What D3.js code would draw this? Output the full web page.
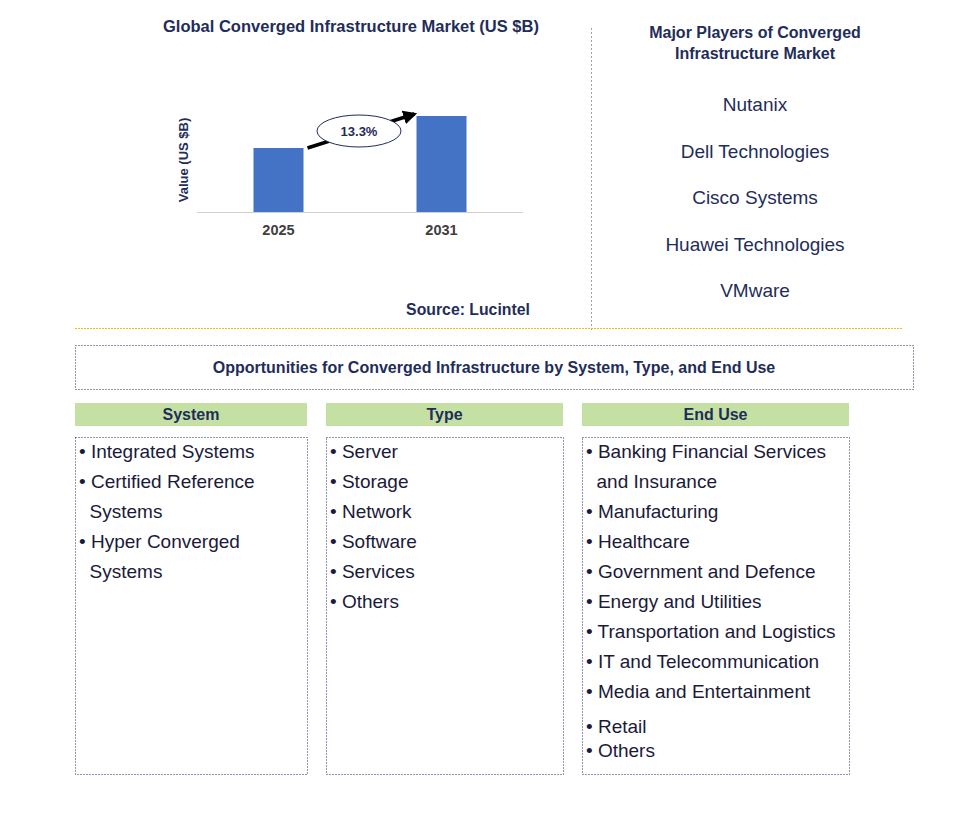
<!DOCTYPE html>
<html><head><meta charset="utf-8">
<script src="https://cdn.jsdelivr.net/npm/d3@7"></script>
<style>body{margin:0;background:#fff}</style></head>
<body><svg id="c" width="978" height="815"></svg>
<script>
const years = ["2025","2031"];
const values = [6.4, 9.6];
const cagr = "13.3%";
const players = ["Nutanix","Dell Technologies","Cisco Systems","Huawei Technologies","VMware"];
const systemItems = [["• Integrated Systems"],["• Certified Reference","  Systems"],["• Hyper Converged","  Systems"]];
const typeItems = [["• Server"],["• Storage"],["• Network"],["• Software"],["• Services"],["• Others"]];
const endUseItems = [["• Banking Financial Services","  and Insurance"],["• Manufacturing"],["• Healthcare"],["• Government and Defence"],["• Energy and Utilities"],["• Transportation and Logistics"],["• IT and Telecommunication"],["• Media and Entertainment"],["• Retail"],["• Others"]];

const svg = d3.select("#c");
const F = "Arial, 'Liberation Sans', sans-serif";
const navy = "#1f2d5a";
svg.append("text").attr("x",351).attr("y",32).attr("text-anchor","middle").attr("font-family",F)
  .attr("font-weight","bold").attr("font-size",16.5).attr("fill",navy).text("Global Converged Infrastructure Market (US $B)");

const x = d3.scaleBand().domain(years).range([197,523]).padding(0);
const y = d3.scaleLinear().domain([0,10]).range([212,112]);
const bw = 50;
svg.append("line").attr("x1",197).attr("x2",523).attr("y1",212.5).attr("y2",212.5).attr("stroke","#d0d0d0");
svg.selectAll("rect.bar").data(years).join("rect").attr("class","bar")
  .attr("x",d=>x(d)+x.bandwidth()/2-bw/2).attr("width",bw)
  .attr("y",(d,i)=>y(values[i])).attr("height",(d,i)=>y(0)-y(values[i])).attr("fill","#4472c4");
svg.selectAll("text.yr").data(years).join("text").attr("class","yr")
  .attr("x",d=>x(d)+x.bandwidth()/2).attr("y",235).attr("text-anchor","middle")
  .attr("font-family",F).attr("font-weight","bold").attr("font-size",14.5).attr("fill","#404040").text(d=>d);
svg.append("text").attr("transform","translate(188,160) rotate(-90)").attr("text-anchor","middle")
  .attr("font-family",F).attr("font-weight","bold").attr("font-size",13).attr("fill",navy).text("Value (US $B)");
const defs = svg.append("defs");
defs.append("marker").attr("id","ah").attr("viewBox","0 0 10 10").attr("refX",8).attr("refY",5)
  .attr("markerWidth",4).attr("markerHeight",4).attr("orient","auto")
  .append("path").attr("d","M0,0L10,5L0,10z").attr("fill","#000");
const x0 = x(years[0])+x.bandwidth()/2+bw/2+4, x1 = x(years[1])+x.bandwidth()/2-bw/2-2;
svg.append("line").attr("x1",x0).attr("y1",y(values[0])).attr("x2",x1).attr("y2",y(values[1])-2)
  .attr("stroke","#000").attr("stroke-width",3.5).attr("marker-end","url(#ah)");
const ex=(x0+x1)/2-2, ey=(y(values[0])+y(values[1]))/2-1;
svg.append("ellipse").attr("cx",ex).attr("cy",ey).attr("rx",42).attr("ry",16).attr("fill","#fff").attr("stroke",navy);
svg.append("text").attr("x",ex).attr("y",ey+5).attr("text-anchor","middle").attr("font-family",F)
  .attr("font-weight","bold").attr("font-size",13).attr("fill",navy).text(cagr);
svg.append("text").attr("x",468).attr("y",315).attr("text-anchor","middle").attr("font-family",F)
  .attr("font-weight","bold").attr("font-size",15.8).attr("fill",navy).text("Source: Lucintel");

svg.append("line").attr("x1",591.5).attr("x2",591.5).attr("y1",28).attr("y2",332).attr("stroke","#a0a0a0").attr("stroke-dasharray","2,2");
svg.append("line").attr("x1",75).attr("x2",902).attr("y1",328.5).attr("y2",328.5).attr("stroke","#f0c000").attr("stroke-width",1.2).attr("stroke-dasharray","2,1");

svg.append("text").attr("x",755).attr("y",38).attr("text-anchor","middle").attr("font-family",F)
  .attr("font-weight","bold").attr("font-size",16).attr("fill",navy)
  .selectAll("tspan").data(["Major Players of Converged","Infrastructure Market"]).join("tspan")
  .attr("x",755).attr("dy",(d,i)=>i?21:0).text(d=>d);
svg.selectAll("text.pl").data(players).join("text").attr("class","pl")
  .attr("x",755).attr("y",(d,i)=>111+i*46.5).attr("text-anchor","middle").attr("font-family",F)
  .attr("font-size",19).attr("fill",navy).text(d=>d);

svg.append("rect").attr("x",75.5).attr("y",345.5).attr("width",838).attr("height",44).attr("fill","none")
  .attr("stroke",navy).attr("stroke-dasharray","1,2");
svg.append("text").attr("x",494).attr("y",373).attr("text-anchor","middle").attr("font-family",F)
  .attr("font-weight","bold").attr("font-size",16).attr("fill",navy)
  .text("Opportunities for Converged Infrastructure by System, Type, and End Use");

const cols = [
  {h:"System",x:75,w:232,items:systemItems},
  {h:"Type",x:326,w:237,items:typeItems},
  {h:"End Use",x:582,w:267,items:endUseItems}];
cols.forEach(c=>{
  svg.append("rect").attr("x",c.x).attr("y",403).attr("width",c.w).attr("height",23).attr("fill","#c5e0a3");
  svg.append("text").attr("x",c.x+c.w/2).attr("y",420).attr("text-anchor","middle").attr("font-family",F)
    .attr("font-weight","bold").attr("font-size",16).attr("fill",navy).text(c.h);
  svg.append("rect").attr("x",c.x+0.5).attr("y",437.5).attr("width",c.w).attr("height",337).attr("fill","none")
    .attr("stroke",navy).attr("stroke-dasharray","1,2");
  let yy = 458;
  c.items.forEach((lines,k)=>{
    if (c.h==="End Use" && k===8) yy += 5;
    if (c.h==="End Use" && k===9) yy -= 6;
    lines.forEach(l=>{
      svg.append("text").attr("x",c.x+4).attr("y",yy).attr("font-family",F).attr("font-size",19)
        .attr("fill","#1a1a3a").style("white-space","pre").text(l);
      yy += 30;
    });
  });
});
</script></body></html>
